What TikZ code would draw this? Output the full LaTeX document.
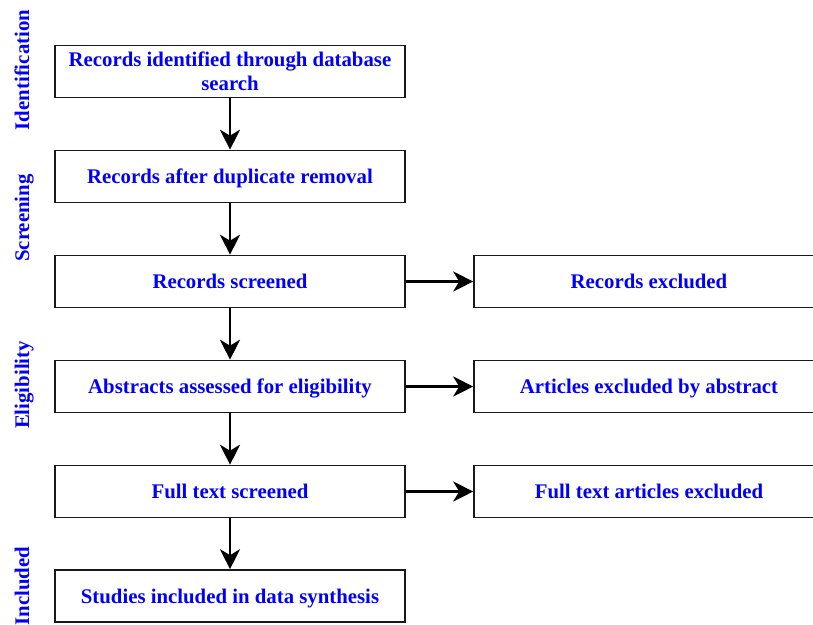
\documentclass[tikz,border=0pt]{standalone}
\usepackage{fontspec}
\setmainfont{Liberation Serif}
\usetikzlibrary{arrows.meta}
\definecolor{txtblue}{RGB}{0,0,250}
\tikzset{
  basebox/.style={draw=black!90, line width=1.6pt, minimum width=350pt, minimum height=52pt,
    inner sep=0pt, align=center, text=txtblue,
    font=\bfseries\fontsize{20.8}{24}\selectfont},
  box/.style={basebox, text height=14.5pt, text depth=0pt},
  rbox/.style={box, minimum width=350pt},
  phase/.style={rotate=90, anchor=base, inner sep=0pt, text=txtblue, font=\bfseries\fontsize{20.8}{24}\selectfont},
  flow/.style={line width=2.6pt, -{Stealth[length=20pt,width=20pt,inset=6pt]}}
}
\begin{document}
\begin{tikzpicture}[x=1pt,y=-1pt]
\clip (0,0) rectangle (813,624);
\useasboundingbox (0,0) rectangle (813,624);
% phase labels
\node[phase] (lid) at (29,70) {Identification};
\node[phase] (lsc) at (29,218) {Screening};
\node[phase] (lel) at (29,385) {Eligibility};
\node[phase] (lin) at (29,586) {Included};
% main column
\node[basebox] (b1) at (230,71.5) {Records identified through database\\search};
\node[box] (b2) at (230,176.5) {Records after duplicate removal};
\node[box] (b3) at (230,281.5) {Records screened};
\node[box] (b4) at (230,386.5) {Abstracts assessed for eligibility};
\node[box] (b5) at (230,491.5) {Full text screened};
\node[box] (b6) at (230,596) {Studies included in data synthesis};
% exclusion column
\node[rbox] (r3) at (649,281.5) {Records excluded};
\node[rbox] (r4) at (649,386.5) {Articles excluded by abstract};
\node[rbox] (r5) at (649,491.5) {Full text articles excluded};
% connectors
\draw[flow] (b1) -- (b2);
\draw[flow] (b2) -- (b3);
\draw[flow] (b3) -- (b4);
\draw[flow] (b4) -- (b5);
\draw[flow] (b5) -- (b6);
\draw[flow] (b3) -- (b3 -| r3.west);
\draw[flow] (b4) -- (b4 -| r4.west);
\draw[flow] (b5) -- (b5 -| r5.west);
\end{tikzpicture}
\end{document}
